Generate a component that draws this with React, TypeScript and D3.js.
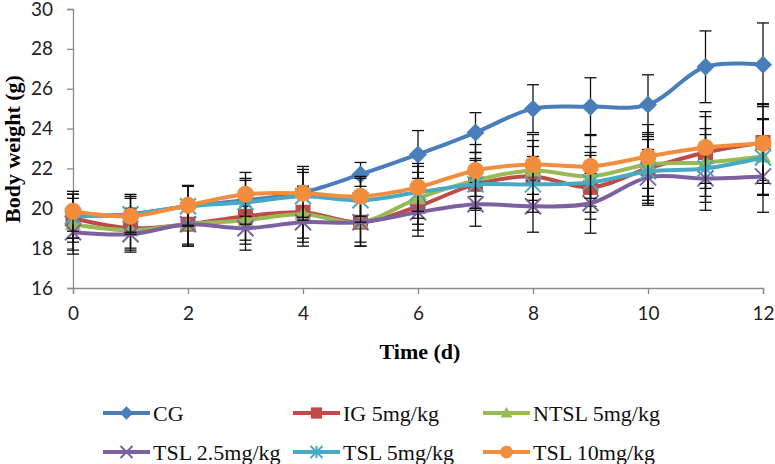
import React, { useEffect, useRef } from "react";
import * as d3 from "d3";

// days on the x axis
const days = [0, 1, 2, 3, 4, 5, 6, 7, 8, 9, 10, 11, 12];
const xTicks = [0, 2, 4, 6, 8, 10, 12];
const yTicks = [16, 18, 20, 22, 24, 26, 28, 30];

const seriesNames = ["CG", "IG 5mg/kg", "NTSL 5mg/kg", "TSL 2.5mg/kg", "TSL 5mg/kg", "TSL 10mg/kg"];
const seriesColors = ["#4A7EBB", "#BE4B48", "#98B954", "#7D60A0", "#46AAC5", "#F38D3E"];
const seriesMarkers = ["diamond", "square", "triangle", "x", "star", "circle"];

// mean body weight (g)
const cg = [19.6, 19.7, 20.1, 20.4, 20.8, 21.7, 22.7, 23.8, 25.0, 25.1, 25.2, 27.1, 27.2];
const ig = [19.5, 19.0, 19.2, 19.6, 19.8, 19.3, 20.1, 21.2, 21.6, 21.05, 22.0, 22.8, 23.3];
const ntsl = [19.2, 18.9, 19.2, 19.4, 19.7, 19.3, 20.5, 21.4, 21.9, 21.6, 22.2, 22.3, 22.6];
const tsl25 = [18.8, 18.7, 19.2, 19.0, 19.3, 19.3, 19.8, 20.2, 20.1, 20.25, 21.55, 21.5, 21.6];
const tsl5 = [19.6, 19.7, 20.1, 20.3, 20.6, 20.4, 20.8, 21.2, 21.2, 21.3, 21.85, 22.0, 22.55];
const tsl10 = [19.85, 19.6, 20.15, 20.7, 20.75, 20.6, 21.05, 21.9, 22.2, 22.1, 22.6, 23.05, 23.25];

// standard deviations
const cgErr = [1.1, 1.0, 1.0, 1.1, 1.3, 0.6, 1.2, 1.0, 1.2, 1.45, 1.5, 1.8, 2.1];
const igErr = [1.2, 1.0, 1.0, 1.2, 1.3, 1.0, 1.2, 1.3, 1.5, 1.6, 1.6, 1.8, 1.9];
const ntslErr = [1.3, 1.0, 1.1, 1.2, 1.4, 1.2, 1.3, 1.4, 1.5, 1.5, 1.6, 1.7, 1.9];
const tsl25Err = [1.1, 0.9, 1.1, 1.1, 1.2, 1.2, 1.2, 1.1, 1.3, 1.5, 1.4, 1.6, 1.8];
const tsl5Err = [1.1, 0.9, 1.0, 1.1, 1.2, 1.1, 1.3, 1.2, 1.4, 1.5, 1.6, 1.7, 1.9];
const tsl10Err = [1.0, 0.9, 1.0, 1.1, 1.2, 1.0, 1.2, 1.3, 1.5, 1.6, 1.6, 1.8, 2.0];

const allValues = [cg, ig, ntsl, tsl25, tsl5, tsl10];
const allErrors = [cgErr, igErr, ntslErr, tsl25Err, tsl5Err, tsl10Err];

function markerPath(type: string, r: number) {
  const p = d3.path();
  if (type === "diamond") {
    p.moveTo(0, -r); p.lineTo(r, 0); p.lineTo(0, r); p.lineTo(-r, 0); p.closePath();
  } else if (type === "square") {
    p.rect(-r, -r, 2 * r, 2 * r);
  } else if (type === "triangle") {
    p.moveTo(0, -r); p.lineTo(r, r * 0.75); p.lineTo(-r, r * 0.75); p.closePath();
  } else if (type === "circle") {
    p.arc(0, 0, r, 0, Math.PI * 2);
  } else if (type === "x") {
    p.moveTo(-r, -r); p.lineTo(r, r); p.moveTo(r, -r); p.lineTo(-r, r);
  } else if (type === "star") {
    p.moveTo(-r, -r); p.lineTo(r, r); p.moveTo(r, -r); p.lineTo(-r, r);
    p.moveTo(0, -r); p.lineTo(0, r);
  }
  return p.toString();
}

const markerSize: { [k: string]: number } = { diamond: 9, square: 7.5, triangle: 8, circle: 8.5, x: 8, star: 8 };

function drawMarker(g: any, type: string, color: string, x: number, y: number, scale = 1) {
  const stroked = type === "x" || type === "star";
  g.append("path")
    .attr("transform", `translate(${x},${y})`)
    .attr("d", markerPath(type, markerSize[type] * scale))
    .attr("fill", stroked ? "none" : color)
    .attr("stroke", color)
    .attr("stroke-width", stroked ? 2 : 0);
}

export default function App() {
  const ref = useRef<SVGSVGElement>(null);

  useEffect(() => {
    const svg = d3.select(ref.current);
    svg.selectAll("*").remove();

    const xScale = d3.scaleLinear().domain([0, 12]).range([73, 763]);
    const yScale = d3.scaleLinear().domain([16, 30]).range([288, 9]);

    // axes
    const xAxis = svg.append("g").attr("transform", "translate(0,288)")
      .call(d3.axisBottom(xScale).tickValues(xTicks).tickSize(6).tickPadding(12));
    const yAxis = svg.append("g").attr("transform", "translate(73,0)")
      .call(d3.axisLeft(yScale).tickValues(yTicks).tickSize(6).tickPadding(14));
    [xAxis, yAxis].forEach(a => {
      a.selectAll("path.domain").attr("stroke", "#8c8c8c").attr("stroke-width", 1.3);
      a.selectAll(".tick line").attr("stroke", "#8c8c8c").attr("stroke-width", 1.3);
      a.selectAll(".tick text").attr("font-family", "Lato, sans-serif").attr("font-size", 19).attr("fill", "#222");
    });
    xAxis.selectAll(".tick text").attr("dy", "0.72em");

    svg.append("text")
      .attr("x", 420).attr("y", 359).attr("text-anchor", "middle")
      .attr("font-family", "'Liberation Serif', 'Times New Roman', serif")
      .attr("font-weight", "bold").attr("font-size", 22).text("Time (d)");
    svg.append("text")
      .attr("transform", "translate(20,149) rotate(-90)").attr("text-anchor", "middle")
      .attr("font-family", "'Liberation Serif', 'Times New Roman', serif")
      .attr("font-weight", "bold").attr("font-size", 22).text("Body weight (g)");

    const lineGen = d3.line<number>()
      .x((d, i) => xScale(days[i]))
      .y(d => yScale(d))
      .curve(d3.curveCatmullRom.alpha(0.5));

    allValues.forEach((vals, s) => {
      const g = svg.append("g");
      const errs = allErrors[s];
      // error bars
      vals.forEach((v, i) => {
        const x = xScale(days[i]);
        const y0 = yScale(v - errs[i]);
        const y1 = yScale(v + errs[i]);
        g.append("line").attr("x1", x).attr("x2", x).attr("y1", y0).attr("y2", y1)
          .attr("stroke", "#111").attr("stroke-width", 1.3);
        [y0, y1].forEach(yy => {
          g.append("line").attr("x1", x - 6).attr("x2", x + 6).attr("y1", yy).attr("y2", yy)
            .attr("stroke", "#111").attr("stroke-width", 1.3);
        });
      });
      g.append("path").attr("d", lineGen(vals)).attr("fill", "none")
        .attr("stroke", seriesColors[s]).attr("stroke-width", 4);
      vals.forEach((v, i) => drawMarker(g, seriesMarkers[s], seriesColors[s], xScale(days[i]), yScale(v)));
    });

    // legend
    const legX = [103, 293, 483];
    const legY = [413, 452];
    seriesNames.forEach((name, s) => {
      const lx = legX[s % 3];
      const ly = legY[Math.floor(s / 3)];
      const lg = svg.append("g");
      lg.append("line").attr("x1", lx).attr("x2", lx + 47).attr("y1", ly).attr("y2", ly)
        .attr("stroke", seriesColors[s]).attr("stroke-width", 4);
      drawMarker(lg, seriesMarkers[s], seriesColors[s], lx + 23.5, ly, 0.75);
      lg.append("text").attr("x", lx + 50).attr("y", ly + 7.5)
        .attr("font-family", "'Liberation Serif', 'Times New Roman', serif")
        .attr("font-size", 22).attr("fill", "#111").text(name);
    });
  }, []);

  return (
    <svg ref={ref} width={775} height={464} style={{ position: "absolute", left: 0, top: 0, background: "#fff" }} />
  );
}
